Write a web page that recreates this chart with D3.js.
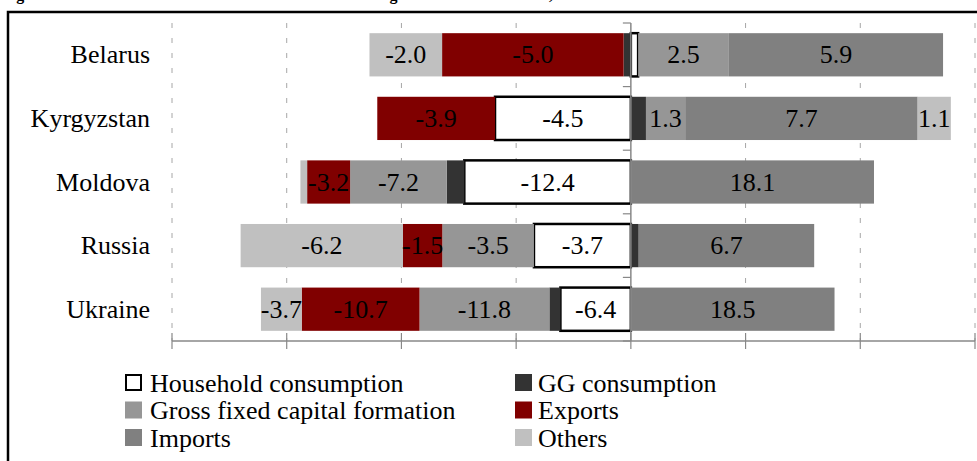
<!DOCTYPE html>
<html>
<head>
<meta charset="utf-8">
<script src="https://cdn.jsdelivr.net/npm/d3@7"></script>
<style>
  body { margin: 0; background: #fff; }
  svg { display: block; }
  text { font-family: "Liberation Serif", "Times New Roman", serif; }
</style>
</head>
<body>
<svg id="chart"></svg>
<script>
// countries (top to bottom)
const countries = ["Belarus", "Kyrgyzstan", "Moldova", "Russia", "Ukraine"];

// contributions, p.p.
const household = [0.2, -4.5, -12.4, -3.7, -6.4];
const ggConsumption = [-0.2, 0.5, -1.3, 0.3, -1.0];
const gfcf = [2.5, 1.3, -7.2, -3.5, -11.8];
const exportsVals = [-5.0, -3.9, -3.2, -1.5, -10.7];
const importsVals = [5.9, 7.7, 18.1, 6.7, 18.5];
const others = [-2.0, 1.1, -0.5, -6.2, -3.7];

const seriesNames = ["Household consumption", "GG consumption", "Gross fixed capital formation", "Exports", "Imports", "Others"];
const seriesValues = [household, ggConsumption, gfcf, exportsVals, importsVals, others];
const colors = ["#ffffff", "#333333", "#969696", "#800000", "#808080", "#c0c0c0"];

// x axis ticks (share of total, %), labels hidden in the original
const xTicks = [-80, -60, -40, -20, 0, 20, 40, 60];

const width = 977, height = 461;
const svg = d3.select("#chart").attr("width", width).attr("height", height);

// outer frame + cut-off title
svg.append("text")
  .attr("x", 2).attr("y", -0.5)
  .style("font-weight", "bold").style("font-size", "16px")
  .text("Figure 1. Contributions to the cumulative real GDP change 2015 relative to 2013, %");
svg.append("rect")
  .attr("x", 8).attr("y", 12).attr("width", 1200).attr("height", 600)
  .attr("fill", "none").attr("stroke", "#000").attr("stroke-width", 2.5);

// rows: raw values + normalised share of the row's total absolute change
const rows = countries.map((c, i) => {
  const row = { country: c };
  let total = 0;
  seriesNames.forEach((s, j) => { total += Math.abs(seriesValues[j][i]); });
  seriesNames.forEach((s, j) => {
    row[s] = seriesValues[j][i] / total * 100;
    row["raw_" + s] = seriesValues[j][i];
  });
  return row;
});

const x = d3.scaleLinear().domain([-80, 60]).range([172, 975]);
const y = d3.scaleBand().domain(countries).range([23, 341])
  .paddingInner(0.32).paddingOuter(0.16);

const yTop = y.range()[0], yBottom = y.range()[1];

// dashed gridlines
svg.append("g").selectAll("line")
  .data(xTicks.filter(t => t !== 0))
  .join("line")
  .attr("x1", d => x(d)).attr("x2", d => x(d))
  .attr("y1", yTop).attr("y2", yBottom)
  .attr("stroke", "#a6a6a6").attr("stroke-width", 1)
  .attr("stroke-dasharray", "5,10");

// stacked bars
const stack = d3.stack().keys(seriesNames).offset(d3.stackOffsetDiverging);
const stacked = stack(rows);

const fmt = v => v.toFixed(1);

stacked.forEach((layer, j) => {
  const g = svg.append("g");
  g.selectAll("rect")
    .data(layer)
    .join("rect")
    .attr("x", d => x(Math.min(d[0], d[1])))
    .attr("y", d => y(d.data.country))
    .attr("width", d => Math.abs(x(d[1]) - x(d[0])))
    .attr("height", y.bandwidth())
    .attr("fill", colors[j])
    .attr("stroke", j === 0 ? "#000" : "none")
    .attr("stroke-width", j === 0 ? 2.5 : 0);
});

// value labels
stacked.forEach((layer, j) => {
  const key = layer.key;
  svg.append("g").selectAll("text")
    .data(layer.filter(d => key !== "GG consumption" && Math.abs(d.data["raw_" + key]) >= 1))
    .join("text")
    .attr("x", d => x((d[0] + d[1]) / 2))
    .attr("y", d => y(d.data.country) + y.bandwidth() / 2)
    .attr("text-anchor", "middle")
    .attr("dominant-baseline", "central")
    .style("font-size", "26px")
    .attr("fill", "#000")
    .text(d => fmt(d.data["raw_" + key]));
});

// vertical category axis at zero
const axisG = svg.append("g");
axisG.append("line")
  .attr("x1", x(0)).attr("x2", x(0)).attr("y1", yTop).attr("y2", yBottom)
  .attr("stroke", "#888").attr("stroke-width", 1.5);
axisG.selectAll(".ytick")
  .data(d3.range(countries.length + 1))
  .join("line")
  .attr("class", "ytick")
  .attr("x1", x(0) - 8).attr("x2", x(0))
  .attr("y1", i => yTop + i * y.step()).attr("y2", i => yTop + i * y.step())
  .attr("stroke", "#888").attr("stroke-width", 1.2);

// bottom axis
const xAxisG = svg.append("g");
xAxisG.append("line")
  .attr("x1", x(-80)).attr("x2", x(60)).attr("y1", yBottom).attr("y2", yBottom)
  .attr("stroke", "#888").attr("stroke-width", 1.5);
xAxisG.selectAll(".xtick")
  .data(xTicks)
  .join("line")
  .attr("class", "xtick")
  .attr("x1", d => x(d)).attr("x2", d => x(d))
  .attr("y1", yBottom - 8).attr("y2", yBottom + 8)
  .attr("stroke", "#888").attr("stroke-width", 1.2);

// category labels
svg.append("g").selectAll("text")
  .data(countries)
  .join("text")
  .attr("x", 150)
  .attr("y", d => y(d) + y.bandwidth() / 2)
  .attr("text-anchor", "end")
  .attr("dominant-baseline", "central")
  .style("font-size", "26px")
  .text(d => d);

// legend
const legendItems = seriesNames.map((s, j) => ({ name: s, color: colors[j], idx: j }));
const legend = svg.append("g");
const leg = legend.selectAll("g")
  .data(legendItems)
  .join("g")
  .attr("transform", d => `translate(${d.idx % 2 === 0 ? 125 : 515},${382 + Math.floor(d.idx / 2) * 27.5})`);
leg.append("rect")
  .attr("x", d => d.idx === 0 ? 1 : 0)
  .attr("y", d => d.idx === 0 ? -7 : -8)
  .attr("width", d => d.idx === 0 ? 15 : 17)
  .attr("height", d => d.idx === 0 ? 15 : 17)
  .attr("fill", d => d.color)
  .attr("stroke", d => d.idx === 0 ? "#000" : "none")
  .attr("stroke-width", 2);
leg.append("text")
  .attr("x", d => d.idx % 2 === 0 ? 25 : 23)
  .attr("y", 1)
  .attr("dominant-baseline", "central")
  .style("font-size", "26px")
  .text(d => d.name);
</script>
</body>
</html>
